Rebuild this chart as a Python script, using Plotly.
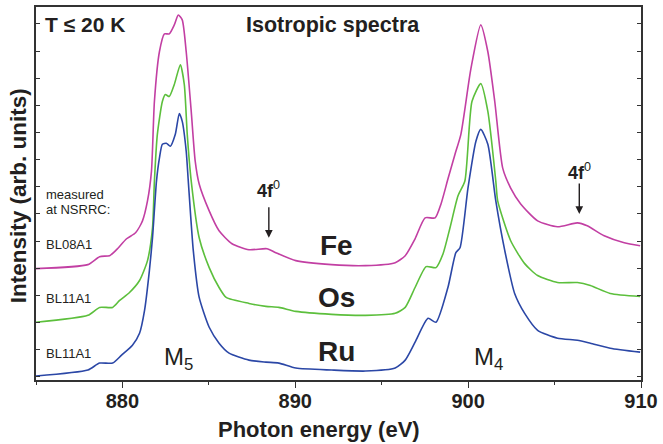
import plotly.graph_objects as go

# ---- data (photon energy in eV, intensity in arb. units incl. vertical offsets) ----
fe_energy = [875.0, 878.0, 878.68, 879.26, 879.66, 880.24, 880.76, 881.16, 881.45, 881.68, 881.85,
             882.14, 882.43, 882.71, 883.0, 883.23, 883.46, 883.69, 883.98, 884.21, 884.44, 885.02,
             885.59, 886.34, 887.32, 888.36, 888.87, 890.03, 892.1, 894.06, 895.78, 896.36, 896.93,
             897.51, 898.09, 898.43, 898.83, 899.24, 899.58, 900.16, 900.73, 901.14, 901.54, 902.0,
             902.46, 903.04, 904.02, 905.17, 906.32, 906.89, 907.87, 909.03, 909.95]
fe_intensity = [112, 116, 124, 125, 131, 142, 148, 160, 180, 210, 280,
                330, 348, 348, 357, 367, 362, 330, 270, 220, 197, 170,
                150, 137, 131, 132, 128, 120, 116, 115, 118, 125, 142,
                163, 163, 177, 202, 227, 247, 313, 357, 330, 280, 213,
                193, 177, 160, 154, 158, 155, 145, 138, 135]

os_energy = [875.0, 878.0, 878.68, 879.43, 879.84, 880.41, 880.99, 881.45, 881.74, 881.85, 882.02,
             882.31, 882.48, 882.71, 883.0, 883.35, 883.58, 883.75, 883.98, 884.44, 885.02, 885.59,
             886.0, 887.32, 888.3, 889.05, 890.03, 892.1, 894.06, 895.78, 896.36, 896.93, 897.57,
             898.14, 898.55, 898.95, 899.41, 899.81, 900.22, 900.73, 901.14, 901.6, 901.71, 902.46,
             903.27, 904.02, 905.17, 906.32, 907.07, 908.22, 909.95]
os_intensity = [58, 65, 73, 73, 80, 88, 100, 120, 153, 200, 247,
                280, 287, 285, 297, 317, 297, 247, 200, 143, 113, 93,
                83, 77, 74, 73, 69, 66, 65, 67, 73, 93, 114,
                113, 127, 153, 185, 200, 280, 298, 270, 200, 180, 140,
                117, 105, 98, 98, 95, 87, 84]

ru_energy = [875.0, 878.0, 878.68, 879.43, 879.95, 880.58, 880.99, 881.28, 881.56, 881.74, 881.97,
             882.14, 882.31, 882.54, 882.77, 883.06, 883.29, 883.46, 883.69, 883.81, 884.1, 884.44,
             885.02, 885.59, 886.17, 887.32, 888.3, 889.05, 890.03, 892.1, 894.06, 895.78, 896.36,
             896.93, 897.68, 898.14, 898.83, 899.29, 899.53, 899.99, 900.45, 900.73, 901.14, 901.6,
             902.12, 902.69, 903.27, 904.02, 905.17, 906.32, 907.07, 908.22, 909.95]
ru_intensity = [4, 10, 17, 17, 25, 35, 47, 70, 110, 143, 200,
                223, 237, 238, 235, 247, 268, 260, 230, 200, 130, 83,
                53, 37, 27, 20, 18, 17, 12, 10, 9, 12, 20,
                38, 62, 58, 93, 128, 133, 193, 240, 252, 237, 180,
                130, 87, 67, 50, 42, 40, 37, 32, 28]

series_names = ["Fe", "Os", "Ru"]
beamlines = ["BL08A1", "BL11A1", "BL11A1"]
colors = ["#c23fa3", "#5cbf3c", "#2b47a6"]

FONT = "Liberation Sans, Arial, Helvetica, sans-serif"
TXT = "#231f20"

fig = go.Figure()
for name, e, v, c in zip(series_names, [fe_energy, os_energy, ru_energy],
                         [fe_intensity, os_intensity, ru_intensity], colors):
    fig.add_trace(go.Scatter(x=e, y=v, mode="lines", name=name,
                             line=dict(color=c, width=1.6, shape="spline", smoothing=0.6),
                             showlegend=False, hoverinfo="x+y+name"))

axis_color = "#333333"
fig.update_layout(
    width=663, height=444,
    margin=dict(l=36, r=19, t=5, b=64),
    paper_bgcolor="white", plot_bgcolor="white",
    font=dict(family=FONT, color=TXT),
    xaxis=dict(range=[875, 910], tick0=880, dtick=10, ticks="outside", ticklen=6, tickwidth=1.2,
               tickcolor=axis_color, showline=True, linecolor=axis_color, linewidth=1.5, mirror=True,
               showgrid=False, zeroline=False, ticklabelstandoff=-4,
               minor=dict(dtick=5, ticklen=3, tickwidth=1.2, tickcolor=axis_color, ticks="outside"),
               tickfont=dict(size=20, family=FONT, color=TXT, weight="bold")),
    xaxis2=dict(range=[875, 910], overlaying="x", side="top", anchor="y", tick0=875, dtick=5,
                ticks="inside", ticklen=3, tickcolor=axis_color, showticklabels=False,
                showgrid=False, zeroline=False, showline=False),
    yaxis=dict(range=[0, 375], tick0=3.1, dtick=27.3, ticks="inside", ticklen=4, tickwidth=1.2,
               tickcolor=axis_color, showticklabels=False, showline=True, linecolor=axis_color,
               linewidth=1.5, mirror="ticks", showgrid=False, zeroline=False),
)

ann = []
def add_text(x, y, text, size, bold=False, xanchor="center", xref="x", yref="y", angle=0):
    ann.append(dict(x=x, y=y, xref=xref, yref=yref, text=("<b>%s</b>" % text) if bold else text,
                    showarrow=False, xanchor=xanchor, yanchor="middle", textangle=angle,
                    font=dict(size=size, family=FONT, color=TXT)))

# axis titles
add_text(0.467, -0.133, "Photon energy (eV)", 22, bold=True, xref="paper", yref="paper")
add_text(-0.0296, 0.493, "Intensity (arb. units)", 22.5, bold=True, xref="paper", yref="paper", angle=-90)

add_text(0.0115, 0.952, "T ≤ 20 K", 21, bold=True, xanchor="left", xref="paper", yref="paper")
add_text(0.491, 0.952, "Isotropic spectra", 21.5, bold=True, xref="paper", yref="paper")
add_text(875.45, 187, "measured", 13, xanchor="left")
add_text(875.45, 171, "at NSRRC:", 13, xanchor="left")
for bl, yv in zip(beamlines, [136, 82, 27]):
    add_text(875.45, yv, bl, 13, xanchor="left")
for nm, yv in zip(series_names, [135, 83, 29]):
    add_text(892.4, yv, nm, 28, bold=True)
add_text(883.23, 22, "M<sub>5</sub>", 24)
add_text(901.19, 22, "M<sub>4</sub>", 24)
# 4f0 markers
add_text(888.47, 192, "<b>4f</b><sup>0</sup>", 18)
add_text(906.43, 210, "<b>4f</b><sup>0</sup>", 18)
for xv, ytip in [(888.47, 143), (906.43, 167)]:
    ann.append(dict(x=xv, y=ytip, xref="x", yref="y", text="", showarrow=True, ax=0, ay=-32,
                    arrowhead=2, arrowsize=1.1, arrowwidth=1.4, arrowcolor=TXT, standoff=0))
fig.update_layout(annotations=ann)

fig.write_html("out.html", config={"displayModeBar": False},
               post_script="document.body.style.margin='0';document.body.style.padding='0';")
